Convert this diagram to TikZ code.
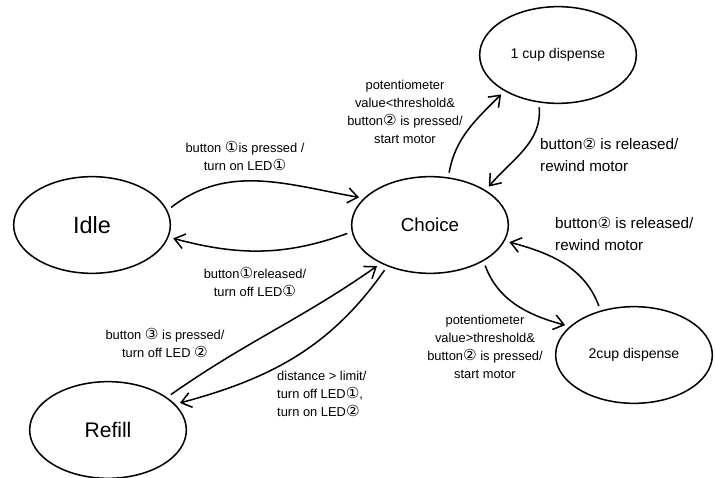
\documentclass[tikz,border=0pt]{standalone}
\usepackage{fontspec}
\setmainfont{Liberation Sans}
\newfontfamily\symfont{DejaVu Sans}
\newcommand{\circled}[1]{{\symfont\fontsize{13}{15}\selectfont #1}}
\usetikzlibrary{arrows.meta,shapes.geometric,positioning}

\begin{document}
\begin{tikzpicture}[x=0.03cm,y=-0.03cm,
  state/.style={draw,ellipse,line width=1.3pt,minimum width=4.7cm,minimum height=2.9cm,inner sep=0pt},
  trans/.style={line width=1.3pt,-{Straight Barb[length=3mm,width=4.5mm]},shorten <=4pt,shorten >=4pt},
  lbl/.style={font=\fontsize{11}{15.5}\selectfont,inner sep=0pt}]
\useasboundingbox (0,0) rectangle (715,478);
% states
\node[state,font=\fontsize{20}{20}\selectfont] (idle) at (92,225) {Idle};
\node[state,font=\fontsize{16}{16}\selectfont] (choice) at (430,225) {Choice};
\node[state,font=\fontsize{12}{12}\selectfont] (cup1) at (558,55) {1 cup dispense};
\node[state,font=\fontsize{12}{12}\selectfont] (cup2) at (634,355) {2cup dispense};
\node[state,font=\fontsize{18}{18}\selectfont] (refill) at (108,430) {Refill};
% transitions
\draw[trans] (idle.11) to[out=38,in=170] (choice.158);
\draw[trans] (choice.185) to[out=200,in=-15] (idle.351);
\draw[trans] (choice.69) to[out=80,in=225] (cup1.214);
\draw[trans] (cup1.248) to[out=-85,in=50] (choice.32);
\draw[trans] (cup2.127) to[out=110,in=-15] (choice.348);
\draw[trans] (choice.326) to[out=-70,in=165] (cup2.156);
\draw[trans] (refill.29) to[out=35,in=215] (choice.218);
\draw[trans] (choice.224) to[out=235,in=15] (refill.21);
% labels
\node[lbl,align=center] (lpress1) at (245,156) {button \circled{①}is pressed /\\turn on LED\circled{①}};
\node[lbl,align=center] (lrel1) at (255,282) {button\circled{①}released/\\turn off LED\circled{①}};
\node[lbl,align=center] (lless) at (405,112) {potentiometer\\value<threshold\&\\button\circled{②} is pressed/\\start motor};
\node[lbl,align=left,anchor=west,font=\fontsize{13}{19}\selectfont] (lrel2a) at (540,155) {button\circled{②} is released/\\rewind motor};
\node[lbl,align=left,anchor=west,font=\fontsize{13}{19}\selectfont] (lrel2b) at (555,234) {button\circled{②} is released/\\rewind motor};
\node[lbl,align=center] (lmore) at (485,347) {potentiometer\\value>threshold\&\\button\circled{②} is pressed/\\start motor};
\node[lbl,align=center] (lpress3) at (165,343) {button \circled{③} is pressed/\\turn off LED \circled{②}};
\node[lbl,align=left,anchor=west] (ldist) at (277,394) {distance > limit/\\turn off LED\circled{①},\\turn on LED\circled{②}};
\end{tikzpicture}
\end{document}
